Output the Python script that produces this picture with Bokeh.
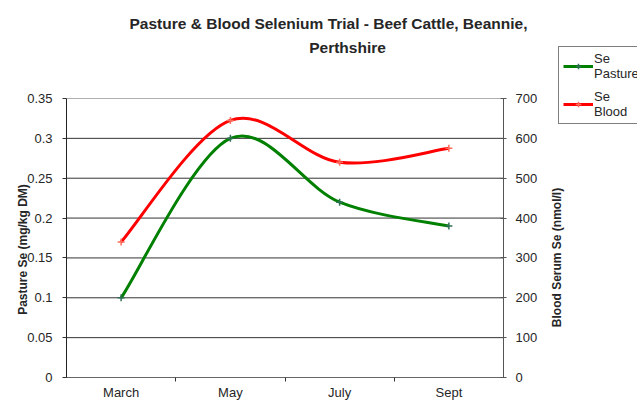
import numpy as np
from math import pi
from bokeh.plotting import figure
from bokeh.models import (Range1d, LinearAxis, FixedTicker, Legend, LegendItem,
                          Label, NumeralTickFormatter)
from bokeh.embed import file_html
from bokeh.resources import INLINE

# ---- data ----
months = ["March", "May", "July", "Sept"]
pasture_se = [0.10, 0.30, 0.22, 0.19]      # mg/kg DM (left axis)
blood_se = [340, 645, 540, 575]             # nmol/l (right axis)
left_ticks = [0, 0.05, 0.1, 0.15, 0.2, 0.25, 0.3, 0.35]
right_ticks = [0, 100, 200, 300, 400, 500, 600, 700]

FONT = "Liberation Sans"
TXT = "#262626"
GREEN = "#008000"
RED = "#ff0000"

# layout (pixels): the data frame covers the whole canvas; the plot-area axes are
# placed at fixed data locations inside it.
W, H = 637, 401
PLOT_L, PLOT_R, PLOT_T, PLOT_B = 66, 503, 98, 377
cat_px = (PLOT_R - PLOT_L) / len(months)
x_start = -0.5 - PLOT_L / cat_px
x_end = -0.5 + (W - PLOT_L) / cat_px
y_lo_frac = -(H - PLOT_B) / (PLOT_B - PLOT_T)
y_hi_frac = PLOT_B / (PLOT_B - PLOT_T)

xs = list(range(len(months)))
x_lo, x_hi = -0.5, len(months) - 0.5


def smooth(xv, yv):
    """Excel-like smoothed line: cubic Bezier segments from the data points."""
    xv = np.asarray(xv, float)
    yv = np.asarray(yv, float)
    n = len(xv)
    xp = np.concatenate([[xv[0]], xv, [xv[-1]]])
    yp = np.concatenate([[yv[0]], yv, [yv[-1]]])
    return dict(
        x0=xv[:-1], y0=yv[:-1], x1=xv[1:], y1=yv[1:],
        cx0=xp[1:n] + (xp[2:n + 1] - xp[0:n - 1]) / 6,
        cy0=yp[1:n] + (yp[2:n + 1] - yp[0:n - 1]) / 6,
        cx1=xp[2:n + 1] - (xp[3:n + 2] - xp[1:n]) / 6,
        cy1=yp[2:n + 1] - (yp[3:n + 2] - yp[1:n]) / 6,
    )


ltop, rtop = left_ticks[-1], right_ticks[-1]
p = figure(width=W, height=H, x_range=Range1d(x_start, x_end),
           y_range=Range1d(ltop * y_lo_frac, ltop * y_hi_frac), output_backend="svg",
           toolbar_location=None, y_axis_location=None,
           min_border_left=0, min_border_right=0, min_border_top=0,
           min_border_bottom=0, outline_line_color=None,
           background_fill_color="white", border_fill_color="white")
p.extra_y_ranges = {"blood": Range1d(rtop * y_lo_frac, rtop * y_hi_frac)}

# x axis: labels at category centres, ticks at category boundaries
xa = p.xaxis[0]
xa.fixed_location = 0
xa.bounds = (x_lo, x_hi)
xa.ticker = FixedTicker(ticks=xs, minor_ticks=[i + 0.5 for i in xs[:-1]])
xa.major_label_overrides = {i: m for i, m in zip(xs, months)}
xa.major_tick_out = 0
xa.major_tick_in = 0
xa.minor_tick_out = 4
xa.minor_tick_in = 0
xa.minor_tick_line_color = "#333333"
xa.axis_line_color = "#666666"
xa.major_label_standoff = 3
xa.major_label_text_font = FONT
xa.major_label_text_font_size = "13px"
xa.major_label_text_color = TXT
p.xgrid.visible = False
p.ygrid.visible = False

# horizontal gridlines across the plot area only (top one lighter, as in the original)
grid_colors = ["#b0b0b0" if t == ltop else "#333333" for t in left_ticks]
p.segment(x0=[x_lo] * len(left_ticks), x1=[x_hi] * len(left_ticks),
          y0=left_ticks, y1=left_ticks, line_color=grid_colors, line_width=1)


def style_axis(ax, tick_in, tick_out, standoff):
    ax.major_tick_out = tick_out
    ax.major_tick_in = tick_in
    ax.minor_tick_out = 0
    ax.minor_tick_in = 0
    ax.major_label_standoff = standoff
    ax.major_label_text_font = FONT
    ax.major_label_text_font_size = "13px"
    ax.major_label_text_color = TXT


# left axis (placed at the left edge of the plot area)
la = LinearAxis(ticker=FixedTicker(ticks=left_ticks), bounds=(left_ticks[0], ltop),
                formatter=NumeralTickFormatter(format="0.[00]"), fixed_location=x_lo)
style_axis(la, 0, 4, 10)
la.axis_line_color = "#222222"
la.major_tick_line_color = "#333333"
p.add_layout(la, "left")

# right axis (placed at the right edge of the plot area)
ra = LinearAxis(y_range_name="blood", ticker=FixedTicker(ticks=right_ticks),
                bounds=(right_ticks[0], rtop), fixed_location=x_hi)
style_axis(ra, 3, 3, 9)
ra.axis_line_color = "#555555"
ra.major_tick_line_color = "#555555"
p.add_layout(ra, "right")

# smoothed curves
sp = smooth(xs, pasture_se)
sb = smooth(xs, blood_se)
p.bezier(line_color=GREEN, line_width=3, **sp)
p.bezier(line_color=RED, line_width=3, y_range_name="blood", **sb)

# markers
g_pts = p.scatter(xs, pasture_se, marker="cross", size=7, line_color="#2f6f55", line_width=1.5)
r_pts = p.scatter(xs, blood_se, marker="cross", size=7, line_color="#ff6a5a", line_width=1.5,
                  y_range_name="blood")

# hidden line renderers used only for legend samples
g_leg = p.line(xs, pasture_se, line_color=GREEN, line_width=3, visible=False)
r_leg = p.line(xs, blood_se, line_color=RED, line_width=3, y_range_name="blood", visible=False)

legend = Legend(items=[LegendItem(label="Se\nPasture", renderers=[g_leg, g_pts]),
                       LegendItem(label="Se\nBlood", renderers=[r_leg, r_pts])],
                location=(558, H - 124), border_line_color="black", border_line_width=1,
                background_fill_color="white", background_fill_alpha=1,
                label_text_font=FONT, label_text_font_size="13px", label_text_color=TXT,
                label_text_line_height=1.23,
                glyph_width=30, glyph_height=14, label_standoff=1, spacing=8,
                padding=4, margin=0)
p.add_layout(legend, "center")


def text_label(txt, cx, cy, size, angle=0.0):
    """cx, cy: centre of the text in page pixels (from the top-left corner)."""
    p.add_layout(Label(x=cx, y=H - cy, x_units="screen", y_units="screen",
                       text=txt, angle=angle, text_align="center", text_baseline="middle",
                       text_font=FONT, text_font_size=size, text_font_style="bold",
                       text_color=TXT))


text_label("Pasture & Blood Selenium Trial - Beef Cattle, Beannie,", 328, 23, "15.5px")
text_label("Perthshire", 347, 47, "15.5px")
text_label("Pasture Se (mg/kg DM)", 22, 249, "12px", angle=pi / 2)
text_label("Blood Serum Se (nmol/l)", 556, 257, "12px", angle=pi / 2)

open("out.html", "w").write(file_html(p, INLINE))
